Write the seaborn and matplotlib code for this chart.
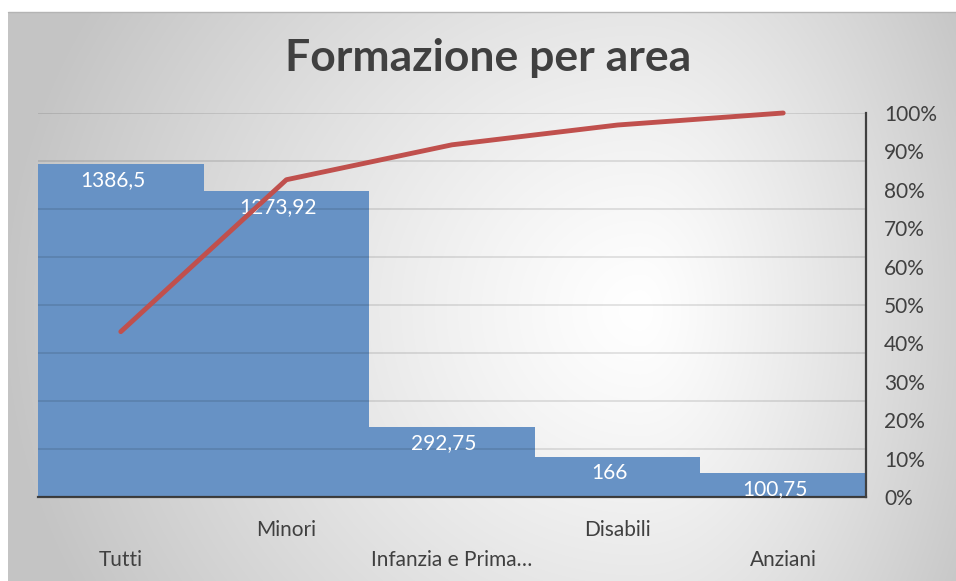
import numpy as np
import pandas as pd
import matplotlib
matplotlib.use("Agg")
import matplotlib.pyplot as plt
import seaborn as sns

# data
areas = ["Tutti", "Minori", "Infanzia e Prima…", "Disabili", "Anziani"]
ore = [1386.5, 1273.92, 292.75, 166, 100.75]
pct_ticks = [0, 0.1, 0.2, 0.3, 0.4, 0.5, 0.6, 0.7, 0.8, 0.9, 1.0]
left_ticks = [0, 200, 400, 600, 800, 1000, 1200, 1400, 1600]

df = pd.DataFrame({"area": areas, "ore": ore})
df["cum"] = df["ore"].cumsum() / df["ore"].sum()
df["pos"] = np.arange(len(df))

sns.set_theme(style="white")
plt.rcParams["font.family"] = ["Lato", "DejaVu Sans"]

W, H = 956, 581
fig = plt.figure(figsize=(W / 100, H / 100), dpi=100)

# radial grey background like the Excel chart area
bg = fig.add_axes([0, 0, 1, 1])
xx, yy = np.meshgrid(np.arange(W), np.arange(H))
cx, cy = 640, 310
rx = np.where(xx < cx, 640, 380)
ry = 600
d = np.sqrt(((xx - cx) / rx) ** 2 + ((yy - cy) / ry) ** 2)
v = 1 - 0.23 * np.clip(d, 0, 1) ** 1.2
v[(xx < 8) | (yy < 12)] = 1.0
bg.imshow(np.dstack([v, v, v]), extent=[0, W, H, 0], aspect="auto", interpolation="bilinear")
bg.plot([8, W], [12, 12], color="#b4b4b4", lw=1)
bg.set_xlim(0, W)
bg.set_ylim(H, 0)
bg.axis("off")

ax = fig.add_axes([38 / W, 84 / H, 828 / W, 384 / H])
ax.set_facecolor("none")
sns.barplot(data=df, x="area", y="ore", ax=ax, color="#6792c5", width=1.0,
            saturation=1, linewidth=0)
ax.set_ylim(0, 1600)
ax.set_yticks(left_ticks)
ax.yaxis.grid(True, color="black", alpha=0.12, lw=1.2)
ax.set_axisbelow(False)
ax.set_xlabel("")
ax.set_ylabel("")
for s in ["left", "top", "right"]:
    ax.spines[s].set_visible(False)
ax.spines["bottom"].set_color("#404040")
ax.spines["bottom"].set_linewidth(1.6)

for i, val in enumerate(df["ore"]):
    t = ax.annotate(f"{val:g}".replace(".", ","), xy=(i, val), xytext=(-6, -11.5),
                    textcoords="offset points", ha="center", va="center",
                    color="white", fontsize=15)
    t.set_clip_on(True)

for i, name in enumerate(df["area"]):
    off = -45 if i % 2 == 0 else -24
    ax.annotate(name, xy=(i, 0), xycoords=("data", "axes fraction"), xytext=(0, off),
                textcoords="offset points", ha="center", va="center",
                color="#404040", fontsize=15, annotation_clip=False)

ax2 = ax.twinx()
sns.lineplot(data=df, x="pos", y="cum", ax=ax2, color="#c0504d", lw=3.5,
             solid_capstyle="round")
for ln in ax2.lines:
    ln.set_clip_on(False)
ax2.set_ylim(0, 1)
ax2.set_yticks(pct_ticks)
ax2.set_yticklabels([f"{int(round(p * 100))}%" for p in pct_ticks])
ax2.tick_params(axis="y", right=False, left=False, pad=7, labelsize=15, labelcolor="#404040")
ax2.set_ylabel("")
ax2.set_xlabel("")
for s in ["left", "top", "bottom"]:
    ax2.spines[s].set_visible(False)
ax2.spines["right"].set_color("#404040")
ax2.spines["right"].set_linewidth(1.6)

# twinx turns the left ticks back on, so hide them afterwards
ax.tick_params(axis="y", left=False, right=False, labelleft=False)
ax.tick_params(axis="x", bottom=False, labelbottom=False)
ax.set_xlim(-0.5, 4.5)

fig.text(488 / W, 1 - 58 / H, "Formazione per area", ha="center", va="center",
         fontsize=32, fontweight="bold", color="#404040")

fig.savefig("out.png", dpi=100)
